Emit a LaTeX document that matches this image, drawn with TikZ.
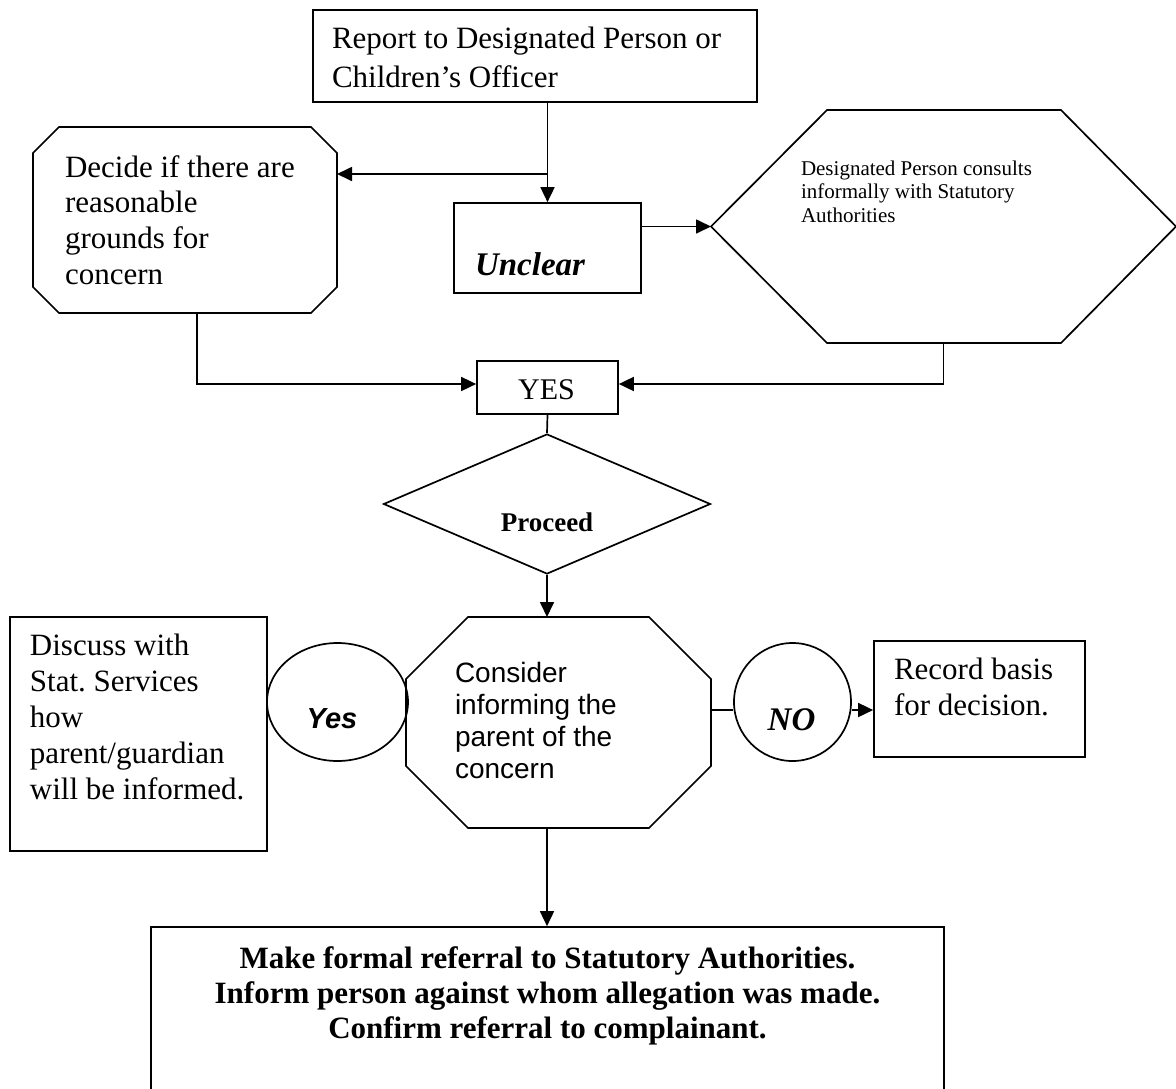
\documentclass[tikz,border=0pt]{standalone}
\usepackage{fontspec}
\setmainfont{Liberation Serif}
\newfontfamily\arialf{Liberation Sans}
\usetikzlibrary{arrows.meta,shapes.geometric}
\frenchspacing
\newcommand\lftlines[2]{\vtop{\baselineskip=#1\relax\lineskiplimit=-100pt\halign{##\hfil\cr#2\crcr}}}
\newcommand\ctrlines[2]{\vtop{\baselineskip=#1\relax\lineskiplimit=-100pt\halign{\hfil##\hfil\cr#2\crcr}}}
\newcommand\octpath[2]{%
  \draw[shp] ([xshift=#2pt]#1.north west) -- ([xshift=-#2pt]#1.north east)
    -- ([yshift=-#2pt]#1.north east) -- ([yshift=#2pt]#1.south east)
    -- ([xshift=-#2pt]#1.south east) -- ([xshift=#2pt]#1.south west)
    -- ([yshift=#2pt]#1.south west) -- ([yshift=-#2pt]#1.north west) -- cycle;}
\begin{document}
\begin{tikzpicture}[x=1pt,y=-1pt,
  shp/.style={line width=1.7pt, line join=miter},
  boxnode/.style={draw, line width=1.7pt, rectangle, inner sep=0pt},
  frame/.style={rectangle, inner sep=0pt, outer sep=0pt},
  ell/.style={draw, line width=1.7pt, ellipse, inner sep=0pt},
  arr/.style={line width=1.7pt, -{Triangle[length=15pt,width=14pt]}},
  ln/.style={line width=1.7pt},
  txt/.style={anchor=base west, inner sep=0pt, outer sep=0pt},
  ctxt/.style={anchor=base, inner sep=0pt, outer sep=0pt},
  tnr/.style={font=\fontsize{31}{36}\selectfont},
]
\useasboundingbox (0,0) rectangle (1176,1088);
\clip (0,0) rectangle (1176,1088);

% shapes
\node[boxnode, minimum width=444pt, minimum height=92pt] (top) at (535,56) {};
\node[frame, minimum width=304pt, minimum height=186pt] (dec) at (185,220) {};
\octpath{dec}{26}
\node[boxnode, minimum width=187pt, minimum height=90pt] (unc) at (547.5,248) {};
\node[frame, minimum width=465pt, minimum height=233pt] (hex) at (943.5,226.5) {};
\draw[shp] (hex.west) -- ([xshift=116pt]hex.north west) -- ([xshift=-115pt]hex.north east)
  -- (hex.east) -- ([xshift=-115pt]hex.south east) -- ([xshift=116pt]hex.south west) -- cycle;
\node[boxnode, minimum width=141pt, minimum height=53pt] (yes) at (547.5,387.5) {};
\node[draw, line width=1.7pt, diamond, inner sep=0pt, minimum width=327pt, minimum height=140pt] (dia) at (547,504) {};
\node[boxnode, minimum width=257pt, minimum height=234pt] (disc) at (138.5,734) {};
\node[ell, minimum width=141pt, minimum height=118pt] (yesc) at (337.5,702) {};
\node[frame, minimum width=305pt, minimum height=211pt] (cons) at (558.5,722.5) {};
\octpath{cons}{62}
\node[ell, minimum width=117pt, minimum height=118pt] (noc) at (792.5,702) {};
\node[boxnode, minimum width=211pt, minimum height=116pt] (rec) at (979.5,699) {};
\node[boxnode, minimum width=793pt, minimum height=183pt] (bot) at (547.5,1018.5) {};

% texts
\node[txt, tnr] (ttop) at (332,48) {\lftlines{39pt}{Report to Designated Person or\cr Children’s Officer}};
\node[txt, tnr] (tdec) at (65,177) {\lftlines{35.7pt}{Decide if there are\cr reasonable\cr grounds for\cr concern}};
\node[txt, font=\fontsize{33}{38}\selectfont\bfseries\itshape] (tunc) at (475,275) {Unclear};
\node[txt, font=\fontsize{21}{24}\selectfont] (thex) at (801,175) {\lftlines{23.5pt}{Designated Person consults\cr informally with Statutory\cr Authorities}};
\node[ctxt, font=\fontsize{30}{34}\selectfont] (tyes) at (546.5,399) {YES};
\node[ctxt, font=\fontsize{27}{31}\selectfont\bfseries] (tdia) at (547,531) {Proceed};
\node[txt, tnr] (tdisc) at (30,655) {\lftlines{36pt}{Discuss with\cr Stat. Services\cr how\cr parent/guardian\cr will be informed.}};
\node[ctxt, font=\fontsize{29}{33}\selectfont\arialf\bfseries\itshape] (tyesc) at (332,728) {Yes};
\node[txt, font=\fontsize{28}{32}\selectfont\arialf] (tcons) at (455,682) {\lftlines{32.3pt}{Consider\cr informing the\cr parent of the\cr concern}};
\node[ctxt, font=\fontsize{33}{38}\selectfont\bfseries\itshape] (tnoc) at (791.5,730) {NO};
\node[txt, tnr] (trec) at (894,679) {\lftlines{36pt}{Record basis\cr for decision.}};
\node[ctxt, font=\fontsize{31}{36}\selectfont\bfseries] (tbot) at (547.5,968) {\ctrlines{35pt}{Make formal referral to Statutory Authorities.\cr Inform person against whom allegation was made.\cr Confirm referral to complainant.}};

% connectors
\coordinate (j1) at (547.5,174);
\draw[arr] (top.south -| unc.north) -- (unc.north);
\draw[arr] (j1) -- (j1 -| dec.east);
\draw[arr] (unc.east |- hex.west) -- (hex.west);
\draw[arr] ([xshift=12pt]dec.south) |- ([yshift=3.5pt]yes.west);
\draw[arr] (hex.south) |- ([yshift=3.5pt]yes.east);
\draw[ln] (yes.south) -- (dia.north);
\draw[arr] (dia.south) -- (dia.south |- cons.north);
\draw[arr] (dia.south |- cons.south) -- (dia.south |- bot.north);
\draw[ln] ([yshift=12.5pt]cons.east) -- ([yshift=12.5pt]cons.east -| noc.west);
\draw[arr] ([yshift=-8pt]noc.east) -- ([yshift=-8pt]noc.east -| rec.west);
\end{tikzpicture}
\end{document}
